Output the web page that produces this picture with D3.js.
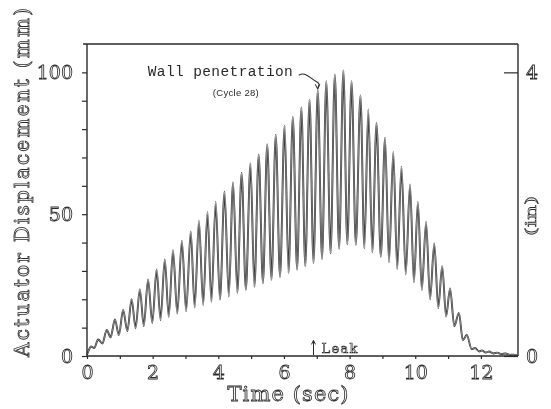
<!DOCTYPE html>
<html>
<head>
<meta charset="utf-8">
<script src="https://cdn.jsdelivr.net/npm/d3@7"></script>
<style>
  body { margin: 0; background: #fff; }
  svg { display: block; filter: grayscale(1); }
</style>
</head>
<body>
<div id="chart"></div>
<script>
// peaks of each displacement cycle (sec, mm)
const peakTimes  = [0.12, 0.34, 0.60, 0.85, 1.10, 1.36, 1.61, 1.86, 2.12, 2.37, 2.62, 2.89, 3.16, 3.41, 3.67, 3.92,
                    4.19, 4.45, 4.71, 4.98, 5.23, 5.49, 5.75, 6.02, 6.27, 6.53, 6.78, 7.03, 7.29, 7.55, 7.81, 8.06,
                    8.33, 8.57, 8.82, 9.08, 9.33, 9.58, 9.84, 10.08, 10.33, 10.58, 10.82, 11.06, 11.33, 11.57];
const peakValues = [3.4, 5.8, 9.2, 12.9, 16.2, 20.0, 23.5, 27.0, 30.5, 34.0, 37.3, 40.6, 43.9, 47.6, 50.8, 54.3,
                    57.9, 61.2, 64.5, 67.9, 71.0, 74.6, 77.9, 81.2, 84.3, 87.6, 90.4, 93.7, 96.9, 99.3, 100.7, 96.9,
                    91.9, 86.9, 82.1, 77.0, 71.9, 66.7, 60.5, 54.3, 47.3, 39.7, 31.7, 23.8, 15.2, 7.4];
// troughs between the peaks
const troughTimes  = [0.22, 0.47, 0.72, 0.97, 1.23, 1.48, 1.73, 1.99, 2.24, 2.49, 2.75, 3.02, 3.28, 3.54, 3.79, 4.05,
                      4.32, 4.58, 4.84, 5.10, 5.36, 5.62, 5.88, 6.14, 6.40, 6.65, 6.90, 7.16, 7.42, 7.68, 7.93, 8.19,
                      8.45, 8.69, 8.95, 9.20, 9.45, 9.71, 9.96, 10.20, 10.45, 10.70, 10.94, 11.19, 11.45];
const troughValues = [2.8, 4.4, 6.6, 7.4, 8.8, 9.8, 10.6, 11.7, 12.7, 13.8, 15.0, 15.8, 17.1, 18.0, 19.1, 19.9,
                      21.0, 22.3, 23.4, 24.4, 25.7, 26.9, 27.9, 29.3, 30.5, 31.6, 32.8, 34.2, 36.2, 37.8, 39.4, 39.2,
                      38.0, 36.6, 35.0, 33.0, 30.7, 28.8, 26.0, 23.3, 20.0, 16.9, 13.9, 10.5, 5.5];
// start and decaying tail of the trace
const startTimes  = [0.0, 0.06];
const startValues = [0.5, 2.2];
const tailTimes   = [11.72, 11.82, 11.95, 12.03, 12.15, 12.25, 12.38, 12.5, 12.62, 12.75, 12.88, 13.0, 13.1];
const tailValues  = [2.4, 2.8, 1.6, 2.0, 1.2, 1.6, 0.9, 1.2, 0.7, 0.9, 0.4, 0.5, 0.2];

const xTicks = [0, 1, 2, 3, 4, 5, 6, 7, 8, 9, 10, 11, 12];
const xTickLabels = ["0", "", "2", "", "4", "", "6", "", "8", "", "10", "", "12"];
const yTicks = [0, 10, 20, 30, 40, 50, 60, 70, 80, 90, 100];
const yTickLabels = ["0", "", "", "", "", "50", "", "", "", "", "100"];
const inTicks = [0, 4];
const inTickLabels = ["0", "4"];

const wallCycle = 28;      // wall penetration at cycle 28
const leakTime = 6.9;

const W = 551, H = 409;
const svg = d3.select("#chart").append("svg").attr("width", W).attr("height", H);

const x = d3.scaleLinear().domain([0, 13.13]).range([87, 518]);
const y = d3.scaleLinear().domain([0, 110]).range([356, 44]);
const yIn = d3.scaleLinear().domain([0, 4]).range([y(0), y(100)]);

const ink = "#2a2a2a";
const serif = "'DejaVu Serif', 'Liberation Serif', serif";
const hollow = "#f4f4f4";

// trace
const pts = [];
startTimes.forEach((t, i) => pts.push([t, startValues[i]]));
peakTimes.forEach((t, i) => pts.push([t, peakValues[i]]));
troughTimes.forEach((t, i) => pts.push([t, troughValues[i]]));
tailTimes.forEach((t, i) => pts.push([t, tailValues[i]]));
pts.sort((a, b) => a[0] - b[0]);

const line = d3.line().x(d => x(d[0])).y(d => y(d[1])).curve(d3.curveMonotoneX);
svg.append("path").datum(pts).attr("d", line)
  .attr("fill", "none").attr("stroke", ink).attr("stroke-width", 1.9);
svg.append("path").datum(pts).attr("d", line)
  .attr("fill", "none").attr("stroke", "#fff").attr("stroke-width", 0.6).attr("opacity", 0.75);

// frame
svg.append("line").attr("x1", x(0) - 4).attr("x2", x.range()[1]).attr("y1", y(110)).attr("y2", y(110))
  .attr("stroke", ink).attr("stroke-width", 1.4);

const xAxis = svg.append("g").attr("transform", `translate(0,${y(0)})`)
  .call(d3.axisBottom(x).tickValues(xTicks).tickSize(3).tickPadding(7)
    .tickFormat((d, i) => xTickLabels[i]));
const yAxis = svg.append("g").attr("transform", `translate(${x(0)},0)`)
  .call(d3.axisLeft(y).tickValues(yTicks).tickSize(5).tickPadding(9)
    .tickFormat((d, i) => yTickLabels[i]));
const rAxis = svg.append("g").attr("transform", `translate(${x.range()[1]},0)`)
  .call(d3.axisRight(yIn).tickValues(inTicks).tickSize(-14).tickPadding(22)
    .tickFormat((d, i) => inTickLabels[i]));

[xAxis, yAxis, rAxis].forEach(g => {
  g.select(".domain").attr("stroke", ink).attr("stroke-width", 1.4);
  g.selectAll(".tick line").attr("stroke", ink).attr("stroke-width", 1.2);
  g.selectAll("text").attr("font-family", serif).attr("font-size", 19)
    .attr("fill", hollow).attr("stroke", ink).attr("stroke-width", 0.8);
});
xAxis.select(".domain").attr("d", `M${x(0)},0H${x.range()[1]}`);
yAxis.select(".domain").attr("d", `M0,${y(0)}V${y(110)}`);
rAxis.select(".domain").attr("d", `M0,${y(0)}V${y(110)}`);
rAxis.selectAll("text").attr("text-anchor", "middle").attr("x", 14);

// axis titles
svg.append("text")
  .attr("transform", `translate(29,${(357 + 8) / 2}) rotate(-90)`)
  .attr("text-anchor", "middle")
  .attr("font-family", serif).attr("font-size", 20)
  .attr("textLength", 349).attr("lengthAdjust", "spacing")
  .attr("fill", hollow).attr("stroke", ink).attr("stroke-width", 0.8)
  .text("Actuator  Displacement  (mm)");

svg.append("text")
  .attr("x", 288).attr("y", 401)
  .attr("text-anchor", "middle")
  .attr("font-family", serif).attr("font-size", 21)
  .attr("textLength", 121).attr("lengthAdjust", "spacing")
  .attr("fill", hollow).attr("stroke", ink).attr("stroke-width", 0.8)
  .text("Time (sec)");

svg.append("text")
  .attr("transform", `translate(536,216) rotate(-90)`)
  .attr("text-anchor", "middle")
  .attr("font-family", serif).attr("font-size", 14)
  .attr("textLength", 40).attr("lengthAdjust", "spacingAndGlyphs")
  .attr("fill", hollow).attr("stroke", ink).attr("stroke-width", 0.6)
  .text("(in)");

// wall penetration annotation
const wx = x(peakTimes[wallCycle - 1]), wy = y(peakValues[wallCycle - 1]);
svg.append("text")
  .attr("x", wx - 170).attr("y", wy - 14)
  .attr("font-family", "'Liberation Mono', 'DejaVu Sans Mono', monospace").attr("font-size", 14.5)
  .attr("textLength", 145).attr("lengthAdjust", "spacing")
  .attr("fill", ink)
  .text("Wall penetration");
svg.append("text")
  .attr("x", wx - 105).attr("y", wy + 6)
  .attr("font-family", "'Liberation Sans', Arial, sans-serif").attr("font-size", 9.5)
  .attr("textLength", 46).attr("lengthAdjust", "spacing")
  .attr("fill", ink)
  .text("(Cycle 28)");
svg.append("path")
  .attr("d", `M${wx - 19},${wy - 15} C${wx - 12},${wy - 19} ${wx - 8},${wy - 12} ${wx - 2},${wy - 9} S${wx},${wy - 4} ${wx},${wy - 2}`)
  .attr("fill", "none").attr("stroke", ink).attr("stroke-width", 1.1);
svg.append("path")
  .attr("d", `M${wx - 2.5},${wy - 6} L${wx},${wy - 1} L${wx + 2},${wy - 6}`)
  .attr("fill", "none").attr("stroke", ink).attr("stroke-width", 1);

// leak marker
const lx = x(leakTime);
svg.append("line").attr("x1", lx).attr("x2", lx).attr("y1", y(0) - 1).attr("y2", y(5.5))
  .attr("stroke", ink).attr("stroke-width", 1);
svg.append("path").attr("d", `M${lx - 2},${y(5.5) + 4} L${lx},${y(5.5)} L${lx + 2},${y(5.5) + 4}`)
  .attr("fill", "none").attr("stroke", ink).attr("stroke-width", 1);
svg.append("text")
  .attr("x", lx + 8).attr("y", y(1.2))
  .attr("font-family", serif).attr("font-size", 13)
  .attr("textLength", 36).attr("lengthAdjust", "spacing")
  .attr("fill", hollow).attr("stroke", ink).attr("stroke-width", 0.6)
  .text("Leak");
</script>
</body>
</html>
